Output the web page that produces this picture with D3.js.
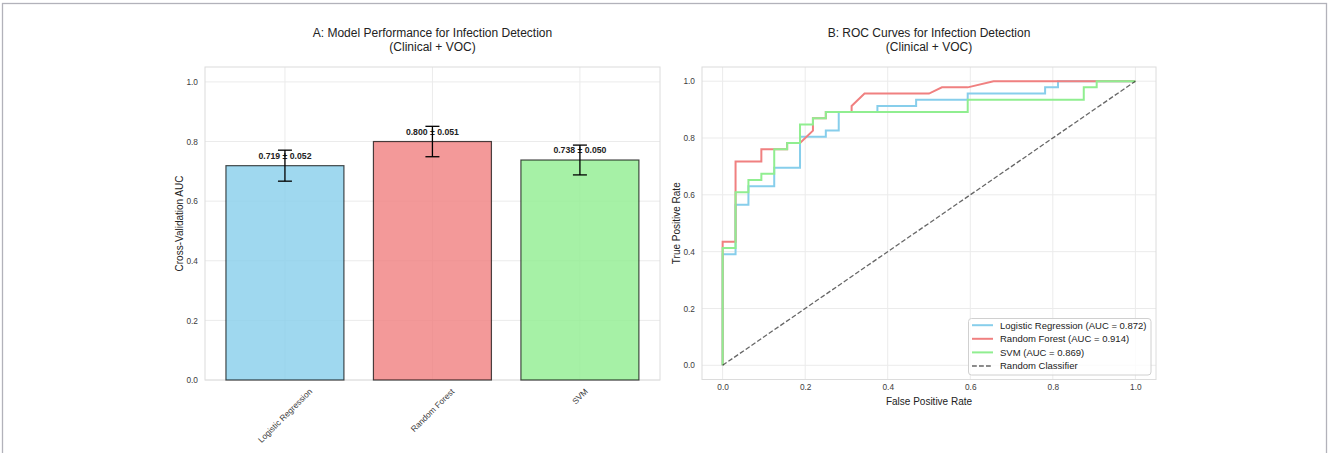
<!DOCTYPE html>
<html>
<head>
<meta charset="utf-8">
<script src="https://cdn.jsdelivr.net/npm/d3@7"></script>
<style>
  html, body { margin: 0; padding: 0; background: #fff; }
  svg { display: block; font-family: "Liberation Sans", Arial, Helvetica, sans-serif; }
</style>
</head>
<body>
<svg id="fig" width="1328" height="453"></svg>
<script>
// ---- data ----
const models = ["Logistic Regression", "Random Forest", "SVM"];
const cvAuc = [0.719, 0.800, 0.738];
const cvStd = [0.052, 0.051, 0.050];
const rocAuc = [0.872, 0.914, 0.869];
const yTicksA = [0, 0.2, 0.4, 0.6, 0.8, 1.0];
const ticksB = [0, 0.2, 0.4, 0.6, 0.8, 1.0];

// ROC curve vertices (false positive rate, true positive rate)
const lrFpr = [0, 0, 0.0313, 0.0313, 0.0625, 0.0625, 0.125, 0.125, 0.1875, 0.1875, 0.25, 0.25, 0.2813, 0.2813, 0.375, 0.375, 0.4688, 0.4688, 0.5938, 0.5938, 0.7813, 0.7813, 0.8125, 0.8125, 1];
const lrTpr = [0, 0.3913, 0.3913, 0.5652, 0.5652, 0.6304, 0.6304, 0.6957, 0.6957, 0.8043, 0.8043, 0.8261, 0.8261, 0.8913, 0.8913, 0.913, 0.913, 0.9348, 0.9348, 0.9565, 0.9565, 0.9783, 0.9783, 1, 1];
const rfFpr = [0, 0, 0.0313, 0.0313, 0.0938, 0.0938, 0.1563, 0.1563, 0.1875, 0.2188, 0.2188, 0.25, 0.25, 0.3125, 0.3125, 0.3438, 0.5, 0.5313, 0.5938, 0.6563, 1];
const rfTpr = [0, 0.4348, 0.4348, 0.7174, 0.7174, 0.7609, 0.7609, 0.7826, 0.7826, 0.8261, 0.8696, 0.8696, 0.8913, 0.8913, 0.913, 0.9565, 0.9565, 0.9783, 0.9783, 1, 1];
const svmFpr = [0, 0, 0.0313, 0.0313, 0.0625, 0.0625, 0.0938, 0.0938, 0.125, 0.125, 0.1563, 0.1563, 0.1875, 0.1875, 0.2188, 0.2188, 0.25, 0.25, 0.5938, 0.5938, 0.875, 0.875, 0.9063, 0.9063, 1];
const svmTpr = [0, 0.413, 0.413, 0.6087, 0.6087, 0.6522, 0.6522, 0.6739, 0.6739, 0.7609, 0.7609, 0.7826, 0.7826, 0.8478, 0.8478, 0.8696, 0.8696, 0.8913, 0.8913, 0.9348, 0.9348, 0.9783, 0.9783, 1, 1];
const chanceLine = [0, 1];

// ---- styles ----
const modelColors = ["#87ceeb", "#f08080", "#90ee90"];
const gridColor = "#ebebeb";
const spineColor = "#dcdcdc";
const tickColor = "#3c3c3c";
const textColor = "#222";

const svg = d3.select("#fig");

// figure frame
svg.append("rect")
  .attr("x", 2.5).attr("y", 3.5).attr("width", 1324).attr("height", 470)
  .attr("fill", "none").attr("stroke", "#b2b2ba").attr("stroke-width", 1.3);

function title(cx, lines) {
  const t = svg.append("text").attr("text-anchor", "middle")
    .attr("font-size", 12).attr("fill", textColor);
  lines.forEach((s, i) => t.append("tspan").attr("x", cx).attr("y", 37 + i * 14).text(s));
}

// ================= Panel A: bar chart =================
const A = { left: 205, right: 660, top: 67, bottom: 380 };
const xA = d3.scaleLinear().domain([-0.542, 2.543]).range([A.left, A.right]);
const yA = d3.scaleLinear().domain([0, 1.05]).range([A.bottom, A.top]);
const barW = xA(0.8) - xA(0);

const gA = svg.append("g");
// grid
gA.selectAll("line.hy").data(yTicksA).join("line")
  .attr("x1", A.left).attr("x2", A.right)
  .attr("y1", d => yA(d)).attr("y2", d => yA(d))
  .attr("stroke", gridColor).attr("stroke-width", 1);
gA.selectAll("line.vx").data(models).join("line")
  .attr("x1", (d, i) => xA(i)).attr("x2", (d, i) => xA(i))
  .attr("y1", A.top).attr("y2", A.bottom)
  .attr("stroke", gridColor).attr("stroke-width", 1);
gA.append("rect")
  .attr("x", A.left).attr("y", A.top)
  .attr("width", A.right - A.left).attr("height", A.bottom - A.top)
  .attr("fill", "none").attr("stroke", spineColor).attr("stroke-width", 1);

// bars
gA.selectAll("rect.bar").data(cvAuc).join("rect")
  .attr("class", "bar")
  .attr("x", (d, i) => xA(i) - barW / 2)
  .attr("width", barW)
  .attr("y", d => yA(d))
  .attr("height", d => yA(0) - yA(d))
  .attr("fill", (d, i) => modelColors[i]).attr("fill-opacity", 0.8)
  .attr("stroke", "#000").attr("stroke-opacity", 0.7).attr("stroke-width", 1.2);

// value labels
gA.selectAll("text.val").data(cvAuc).join("text")
  .attr("x", (d, i) => xA(i))
  .attr("y", d => yA(d + 0.023))
  .attr("text-anchor", "middle").attr("font-size", 8.7).attr("font-weight", "bold")
  .attr("fill", textColor)
  .text((d, i) => `${d.toFixed(3)} ± ${cvStd[i].toFixed(3)}`);

// error bars
const cap = 7;
cvAuc.forEach((v, i) => {
  const cx = xA(i), lo = yA(v - cvStd[i]), hi = yA(v + cvStd[i]);
  const eb = gA.append("g").attr("stroke", "#000").attr("stroke-width", 1.3);
  eb.append("line").attr("x1", cx).attr("x2", cx).attr("y1", lo).attr("y2", hi);
  eb.append("line").attr("x1", cx - cap).attr("x2", cx + cap).attr("y1", lo).attr("y2", lo);
  eb.append("line").attr("x1", cx - cap).attr("x2", cx + cap).attr("y1", hi).attr("y2", hi);
});

// y axis
const axA = gA.append("g").attr("transform", `translate(${A.left},0)`)
  .call(d3.axisLeft(yA).tickValues(yTicksA).tickFormat(d3.format(".1f")).tickSize(0).tickPadding(7));
axA.select(".domain").remove();
axA.selectAll("text").attr("font-size", 8.3).attr("fill", tickColor).attr("font-family", null);

// rotated category labels
gA.selectAll("text.cat").data(models).join("text")
  .attr("font-size", 8.3).attr("fill", tickColor)
  .attr("text-anchor", "middle").attr("dominant-baseline", "central")
  .text(d => d)
  .each(function (d, i) {
    const w = this.getComputedTextLength();
    const h = 8.3;
    const half = (w + h) * Math.SQRT1_2 / 2;
    d3.select(this).attr("transform", `translate(${xA(i)},${387 + half}) rotate(-45)`);
  });

svg.append("text")
  .attr("transform", `translate(182.5,${(A.top + A.bottom) / 2}) rotate(-90)`)
  .attr("text-anchor", "middle").attr("font-size", 10).attr("fill", textColor)
  .text("Cross-Validation AUC");

title((A.left + A.right) / 2, ["A: Model Performance for Infection Detection", "(Clinical + VOC)"]);

// ================= Panel B: ROC curves =================
const B = { left: 702, right: 1156, top: 67, bottom: 379.5 };
const xB = d3.scaleLinear().domain([-0.05, 1.05]).range([B.left, B.right]);
const yB = d3.scaleLinear().domain([-0.05, 1.05]).range([B.bottom, B.top]);

const gB = svg.append("g");
gB.selectAll("line.gy").data(ticksB).join("line")
  .attr("x1", B.left).attr("x2", B.right)
  .attr("y1", d => yB(d)).attr("y2", d => yB(d))
  .attr("stroke", gridColor).attr("stroke-width", 1);
gB.selectAll("line.gx").data(ticksB).join("line")
  .attr("x1", d => xB(d)).attr("x2", d => xB(d))
  .attr("y1", B.top).attr("y2", B.bottom)
  .attr("stroke", gridColor).attr("stroke-width", 1);
gB.append("rect")
  .attr("x", B.left).attr("y", B.top)
  .attr("width", B.right - B.left).attr("height", B.bottom - B.top)
  .attr("fill", "none").attr("stroke", spineColor).attr("stroke-width", 1);

const curves = [
  { fpr: lrFpr, tpr: lrTpr },
  { fpr: rfFpr, tpr: rfTpr },
  { fpr: svmFpr, tpr: svmTpr }
];
const line = d3.line().x(d => xB(d[0])).y(d => yB(d[1]));
curves.forEach((c, i) => {
  gB.append("path")
    .attr("d", line(d3.zip(c.fpr, c.tpr)))
    .attr("fill", "none").attr("stroke", modelColors[i])
    .attr("stroke-width", 2).attr("stroke-linejoin", "miter");
});
gB.append("path")
  .attr("d", line(d3.zip(chanceLine, chanceLine)))
  .attr("fill", "none").attr("stroke", "#000").attr("stroke-opacity", 0.6)
  .attr("stroke-width", 1.3).attr("stroke-dasharray", "4.8,2.2");

const axBy = gB.append("g").attr("transform", `translate(${B.left},0)`)
  .call(d3.axisLeft(yB).tickValues(ticksB).tickFormat(d3.format(".1f")).tickSize(0).tickPadding(7));
axBy.select(".domain").remove();
axBy.selectAll("text").attr("font-size", 8.3).attr("fill", tickColor).attr("font-family", null);

const axBx = gB.append("g").attr("transform", `translate(0,${B.bottom})`)
  .call(d3.axisBottom(xB).tickValues(ticksB).tickFormat(d3.format(".1f")).tickSize(0).tickPadding(5));
axBx.select(".domain").remove();
axBx.selectAll("text").attr("font-size", 8.3).attr("fill", tickColor).attr("font-family", null);

svg.append("text")
  .attr("x", (B.left + B.right) / 2).attr("y", 405)
  .attr("text-anchor", "middle").attr("font-size", 10).attr("fill", textColor)
  .text("False Positive Rate");
svg.append("text")
  .attr("transform", `translate(679.5,${(B.top + B.bottom) / 2}) rotate(-90)`)
  .attr("text-anchor", "middle").attr("font-size", 10).attr("fill", textColor)
  .text("True Positive Rate");

title((B.left + B.right) / 2, ["B: ROC Curves for Infection Detection", "(Clinical + VOC)"]);

// legend
const legendItems = models.map((m, i) => ({
  label: `${m} (AUC = ${rocAuc[i].toFixed(3)})`, color: modelColors[i], dash: null, op: 1
})).concat([{ label: "Random Classifier", color: "#000", dash: "4.8,2.2", op: 0.6 }]);

const lg = svg.append("g");
lg.append("rect")
  .attr("x", 968.5).attr("y", 318.5).attr("width", 182.5).attr("height", 56.5).attr("rx", 3)
  .attr("fill", "#fff").attr("fill-opacity", 0.8)
  .attr("stroke", "#d0d0d0").attr("stroke-width", 1);
const rowY = d3.scaleLinear().domain([0, 3]).range([325.2, 366]);
legendItems.forEach((it, i) => {
  lg.append("line")
    .attr("x1", 972).attr("x2", 993).attr("y1", rowY(i)).attr("y2", rowY(i))
    .attr("stroke", it.color).attr("stroke-opacity", it.op)
    .attr("stroke-width", it.dash ? 1.3 : 2)
    .attr("stroke-dasharray", it.dash);
  lg.append("text")
    .attr("x", 1000).attr("y", rowY(i)).attr("dy", "0.35em")
    .attr("font-size", 9.5).attr("fill", textColor)
    .text(it.label);
});
</script>
</body>
</html>
